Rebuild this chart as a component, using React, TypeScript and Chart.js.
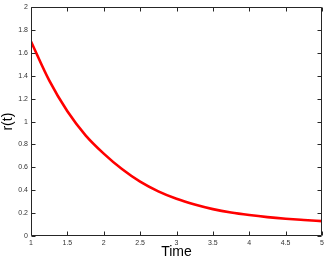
import React, { useEffect, useRef } from "react";
import { Chart, registerables } from "chart.js";

Chart.register(...registerables);

// Data
const timeValues = [1, 1.25, 1.5, 1.75, 2, 2.25, 2.5, 2.75, 3, 3.25, 3.5, 3.75, 4, 4.25, 4.5, 4.75, 5];
const rValues = [1.7, 1.36, 1.09, 0.88, 0.72, 0.585, 0.475, 0.39, 0.325, 0.275, 0.235, 0.205, 0.183, 0.165, 0.151, 0.14, 0.13];

const xTickValues = [1, 1.5, 2, 2.5, 3, 3.5, 4, 4.5, 5];
const yTickValues = [0, 0.2, 0.4, 0.6, 0.8, 1, 1.2, 1.4, 1.6, 1.8, 2];

const xTitle = "Time";
const yTitle = "r(t)";

const FONT = "'Liberation Sans', Arial, Helvetica, sans-serif";

const framePlugin = {
  id: "matlabFrame",
  afterDatasetsDraw(chart: any) {
    const { ctx, chartArea } = chart;
    const { left, right, top, bottom } = chartArea;
    const xs = chart.scales.x;
    const ys = chart.scales.y;
    const tl = 4;
    ctx.save();
    ctx.strokeStyle = "#262626";
    ctx.lineWidth = 1;
    ctx.beginPath();
    const L = Math.round(left) + 0.5;
    const R = Math.round(right) - 0.5;
    const T = Math.round(top) + 0.5;
    const B = Math.round(bottom) - 0.5;
    ctx.rect(L, T, R - L, B - T);
    for (const t of xs.ticks) {
      const px = Math.round(xs.getPixelForValue(t.value)) + 0.5;
      ctx.moveTo(px, B);
      ctx.lineTo(px, B - tl);
      ctx.moveTo(px, T);
      ctx.lineTo(px, T + tl);
    }
    for (const t of ys.ticks) {
      const py = Math.round(ys.getPixelForValue(t.value)) + 0.5;
      ctx.moveTo(L, py);
      ctx.lineTo(L + tl, py);
      ctx.moveTo(R, py);
      ctx.lineTo(R - tl, py);
    }
    ctx.stroke();
    ctx.restore();
  },
};

const fmt = (v: any) => String(+Number(v).toFixed(2));

export default function App() {
  const ref = useRef<HTMLCanvasElement>(null);

  useEffect(() => {
    if (!ref.current) return;
    const chart = new Chart(ref.current, {
      type: "line",
      data: {
        datasets: [
          {
            data: timeValues.map((t, i) => ({ x: t, y: rValues[i] })),
            borderColor: "#ff0000",
            borderWidth: 2.6,
            pointRadius: 0,
            fill: false,
            cubicInterpolationMode: "monotone",
          },
        ],
      },
      options: {
        animation: false,
        responsive: false,
        maintainAspectRatio: false,
        layout: { padding: { top: 6, right: 5, left: 0, bottom: 0 } },
        plugins: { legend: { display: false }, tooltip: { enabled: false } },
        scales: {
          x: {
            type: "linear",
            min: 1,
            max: 5,
            afterBuildTicks: (s: any) => {
              s.ticks = xTickValues.map((v) => ({ value: v }));
            },
            afterFit: (s: any) => {
              s.height = 26;
            },
            grid: { display: false, drawTicks: false, tickLength: 0 },
            border: { display: false },
            ticks: {
              font: { family: FONT, size: 7 },
              color: "#333",
              padding: 3,
              maxRotation: 0,
              autoSkip: false,
              callback: fmt,
            },
            title: {
              display: true,
              text: xTitle,
              font: { family: FONT, size: 14 },
              color: "#000",
              padding: { top: 0, bottom: 1 },
            },
          },
          y: {
            type: "linear",
            min: 0,
            max: 2,
            afterBuildTicks: (s: any) => {
              s.ticks = yTickValues.map((v) => ({ value: v }));
            },
            afterFit: (s: any) => {
              s.width = 31;
            },
            grid: { display: false, drawTicks: false, tickLength: 0 },
            border: { display: false },
            ticks: {
              font: { family: FONT, size: 7 },
              color: "#333",
              padding: 3,
              autoSkip: false,
              callback: fmt,
            },
            title: {
              display: true,
              text: yTitle,
              font: { family: FONT, size: 14 },
              color: "#000",
              padding: { top: 0, bottom: 0 },
            },
          },
        },
      },
      plugins: [framePlugin],
    } as any);
    return () => chart.destroy();
  }, []);

  return (
    <div style={{ position: "fixed", left: 0, top: 0, width: 327, height: 262, background: "#fff" }}>
      <canvas ref={ref} width={327} height={262} style={{ display: "block" }} />
    </div>
  );
}
